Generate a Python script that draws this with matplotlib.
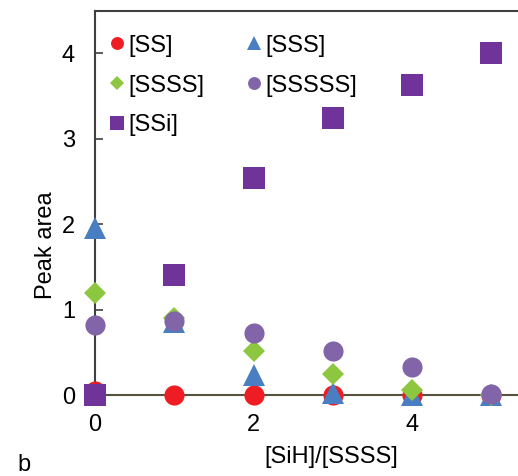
import matplotlib
matplotlib.use("Agg")
import matplotlib.pyplot as plt

plt.rcParams['font.family'] = ['Liberation Sans', 'DejaVu Sans']

x = [0, 1, 2, 3, 4, 5]
ss = [0.05, 0.0, 0.0, 0.0, 0.0, 0.0]
sss = [1.95, 0.85, 0.23, 0.02, 0.0, 0.0]
ssss = [1.19, 0.9, 0.52, 0.24, 0.06, 0.0]
sssss = [0.82, 0.86, 0.72, 0.51, 0.33, 0.01]
ssi = [0.0, 1.40, 2.54, 3.24, 3.63, 4.0]

labels = ['[SS]', '[SSS]', '[SSSS]', '[SSSSS]', '[SSi]']
xticks = [0, 2, 4]
yticks = [0, 1, 2, 3, 4]

W, H = 518, 476
fig = plt.figure(figsize=(W / 100, H / 100), dpi=100)
ax_l, ax_r, ax_t, ax_b = 95, 518, 11, 395
ax = fig.add_axes([ax_l / W, 1 - ax_b / H, (ax_r - ax_l) / W, (ax_b - ax_t) / H])

ax.set_xlim(0, (ax_r - ax_l) / 79.25)
ax.set_ylim(0, (ax_b - ax_t) / 85.5)

common = dict(linestyle='none', clip_on=False, zorder=3, markeredgewidth=0)
h1, = ax.plot(x, ss, marker='o', ms=14.5, color='#EE1D23', label=labels[0], **common)
h2, = ax.plot(x, sss, marker='^', ms=16, color='#4A7EC2', label=labels[1], **common)
h3, = ax.plot(x, ssss, marker='D', ms=11.2, color='#8DC63F', label=labels[2], **common)
h4, = ax.plot(x, sssss, marker='o', ms=14.5, color='#8165A8', label=labels[3], **common)
h5, = ax.plot(x, ssi, marker='s', ms=15.5, color='#70339A', label=labels[4], **common)

ax.spines['right'].set_visible(False)
ax.spines['left'].set_color('#404040')
ax.spines['top'].set_color('#404040')
ax.spines['bottom'].set_color('#575240')
for s in ['left', 'top', 'bottom']:
    ax.spines[s].set_linewidth(1.5)

fs = 17
ax.set_xticks(xticks)
ax.set_yticks(yticks)
ax.tick_params(axis='x', length=0, pad=14, labelsize=fs)
ax.tick_params(axis='y', direction='in', length=5.8, width=1.2, color='#404040', pad=14.4, labelsize=fs)

leg = ax.legend([h1, h3, h5, h2, h4], [labels[0], labels[2], labels[4], labels[1], labels[3]],
                ncol=2, loc='upper left', bbox_to_anchor=(-9 / 423, 1.0), frameon=False,
                fontsize=fs, markerscale=0.64, handlelength=0.6, handletextpad=0.18,
                columnspacing=1.8, labelspacing=0.76, borderaxespad=0.6)

fig.text(46 / W, 1 - 245 / H, 'Peak area', rotation=90, ha='center', va='center', fontsize=fs)
fig.text(331 / W, 1 - 457 / H, '[SiH]/[SSSS]', ha='center', va='center', fontsize=fs)
fig.text(17 / W, 1 - 471 / H, 'b', ha='left', va='baseline', fontsize=fs)

fig.savefig('out.png', dpi=100)
